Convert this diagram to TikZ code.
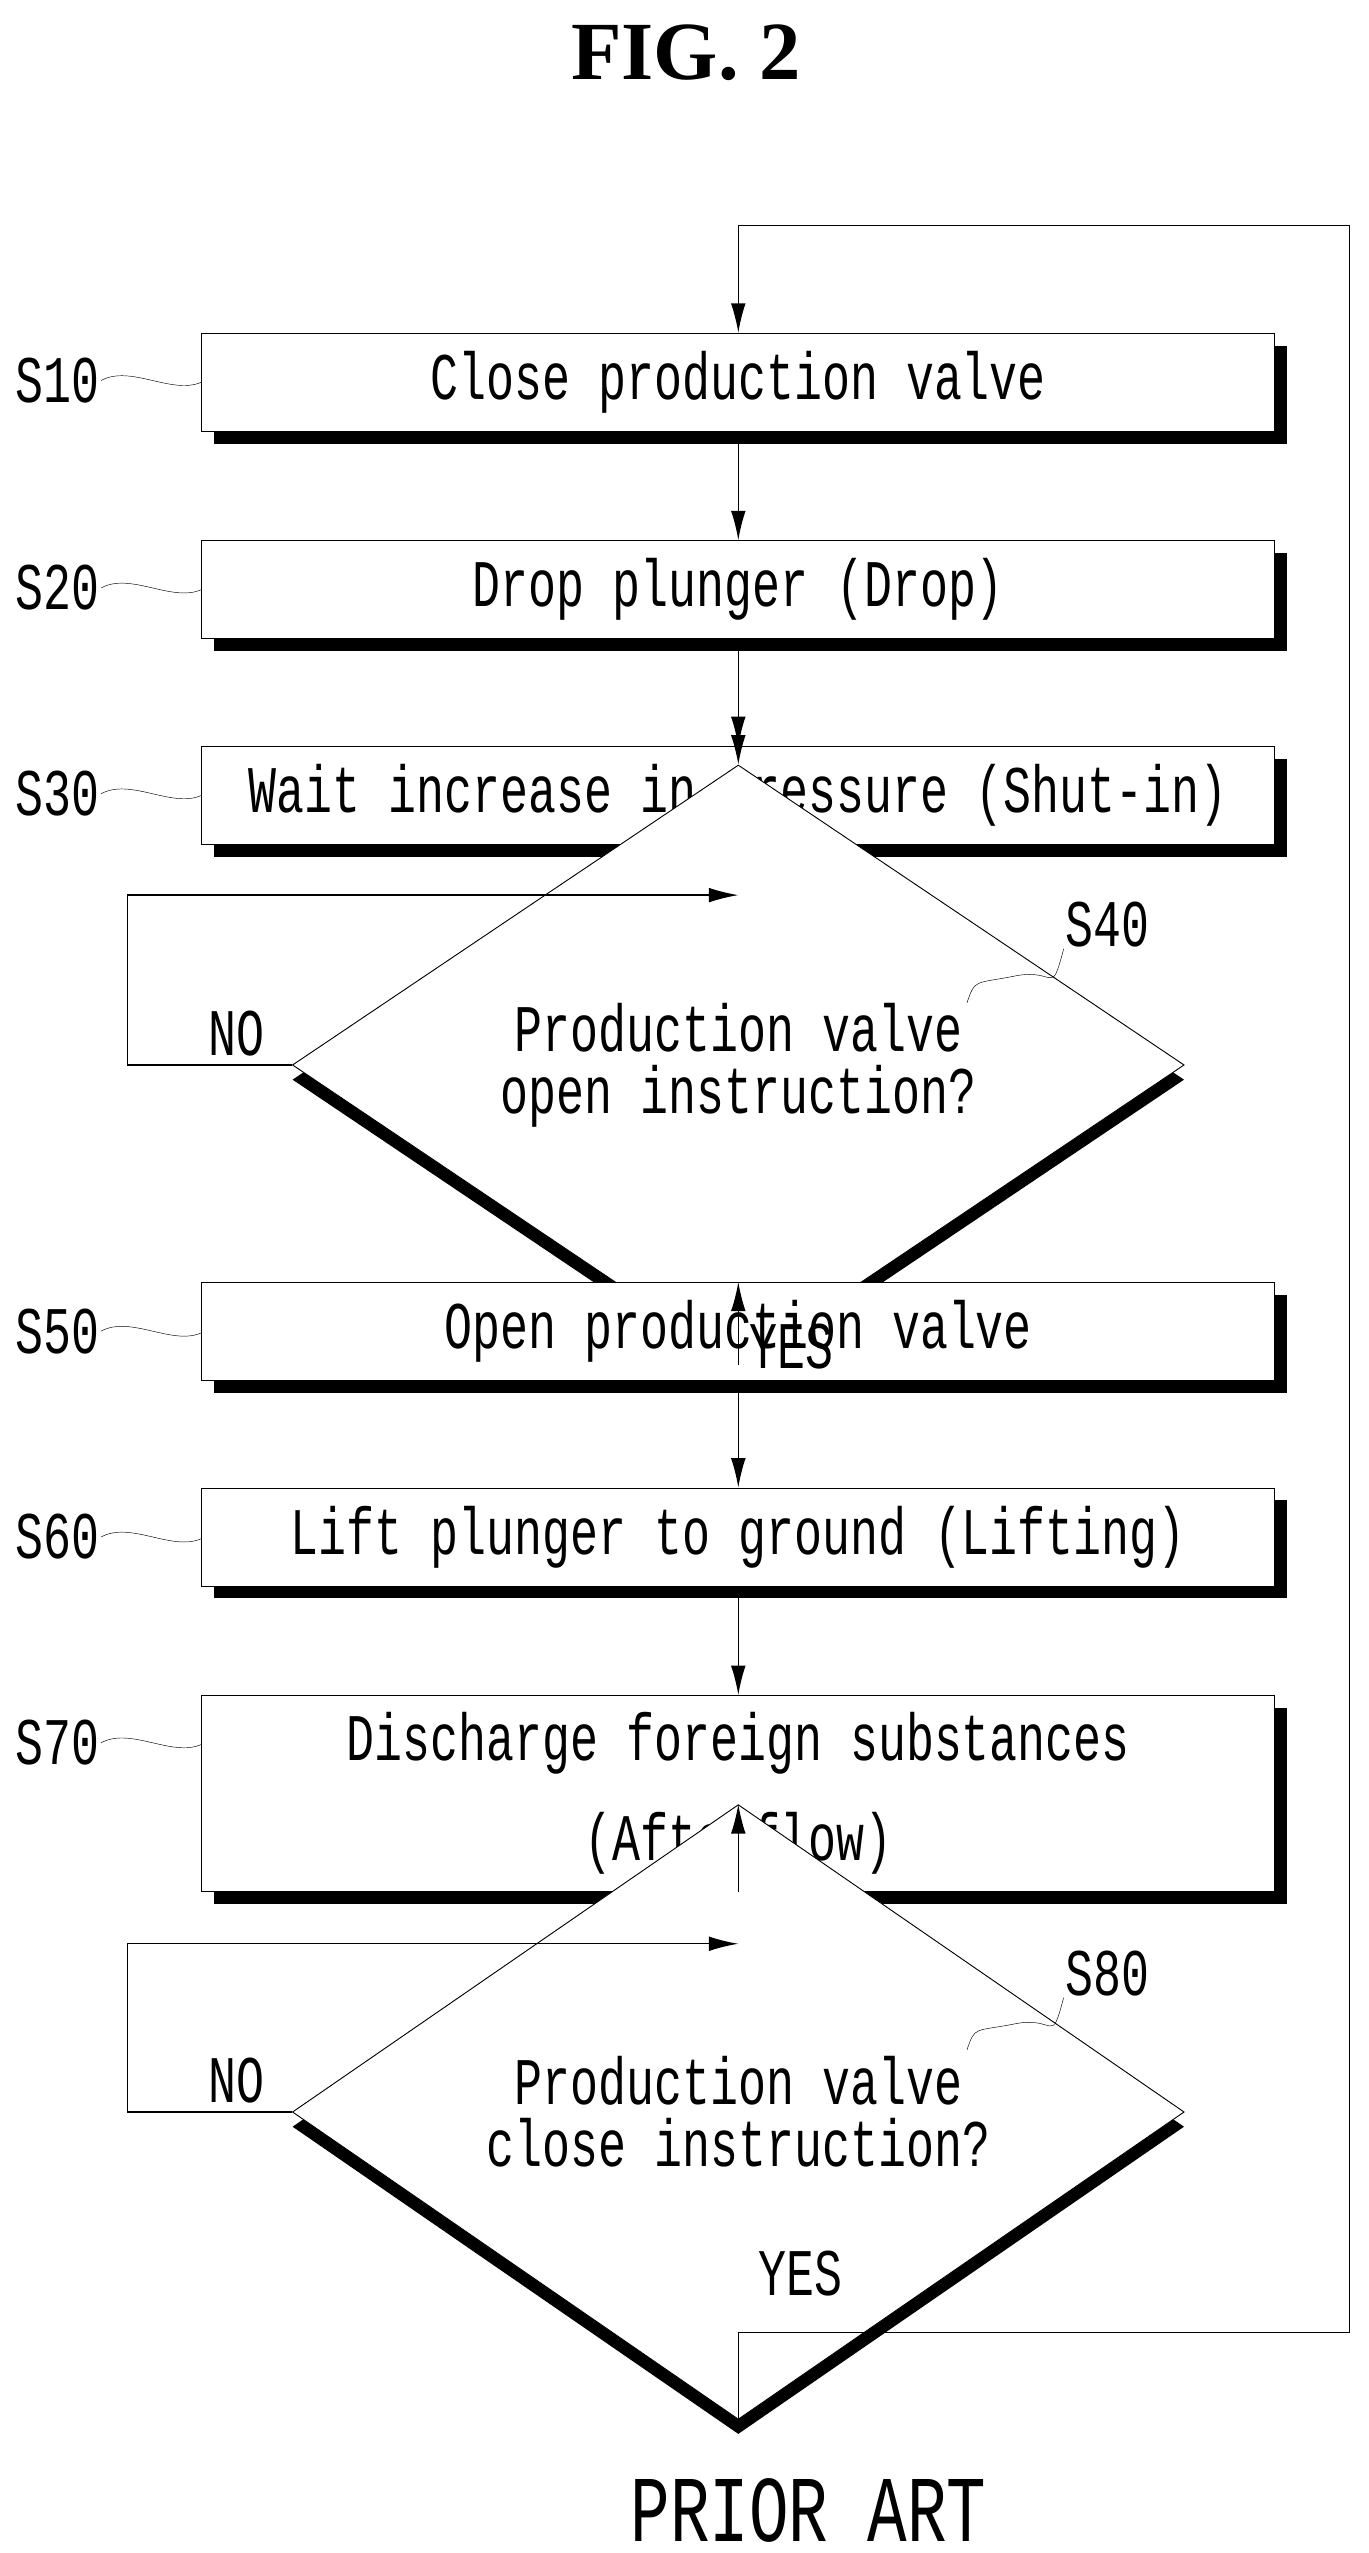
\documentclass[tikz,border=0pt]{standalone}
\usepackage{fontspec}
\setmainfont{Liberation Serif}
\newfontfamily\figfont[FakeStretch=0.7]{Liberation Mono}
\usetikzlibrary{arrows.meta,shapes.geometric,shadows,calc}

\tikzset{
  box/.style={draw,thick,fill=white,minimum width=32.85cm,minimum height=3cm,inner sep=0pt,
    drop shadow={shadow xshift=0.38cm,shadow yshift=-0.38cm,fill=black,opacity=1}},
  dec/.style={diamond,draw,thick,fill=white,minimum width=27.3cm,minimum height=6.95cm,inner sep=0pt,
    align=center,drop shadow={shadow xshift=0cm,shadow yshift=-0.45cm,fill=black,opacity=1}},
  lbl/.style={inner sep=1pt},
  >={Latex[length=0.9cm,width=0.45cm]}
}

\begin{document}
\begin{tikzpicture}[x=0.05cm,y=-0.05cm,font=\figfont\fontsize{58}{60}\selectfont,line width=1.2pt]
    \useasboundingbox (0,0) rectangle (838,1563);
    \node[font=\rmfamily\bfseries\fontsize{72}{72}\selectfont] (title) at (420,32) {FIG. 2};

    % process steps
    \node[box] (s10) at (452,234) {Close production valve};
    \node[box] (s20) at (452,361) {Drop plunger (Drop)};
    \node[box] (s30) at (452,487) {Wait increase in pressure (Shut-in)};
    \node[dec] (s40) at (452,652) {Production valve\\[-0.2cm]open instruction?};
    \node[box] (s50) at (452,815) {Open production valve};
    \node[box] (s60) at (452,941) {Lift plunger to ground (Lifting)};
    \node[box,minimum height=6cm,align=center] (s70) at (452,1098) {Discharge foreign substances\\[0.95cm](Afterflow)};
    \node[dec] (s80) at (452,1293) {Production valve\\[-0.2cm]close instruction?};

    % step labels
    \node[lbl] (l10) at (35,233) {S10};
    \node[lbl] (l20) at (35,360) {S20};
    \node[lbl] (l30) at (35,486) {S30};
    \node[lbl] (l50) at (35,815) {S50};
    \node[lbl] (l60) at (35,941) {S60};
    \node[lbl] (l70) at (35,1067) {S70};
    \node[lbl] (l40) at (678,566) {S40};
    \node[lbl] (l80) at (678,1208) {S80};
    \foreach \l/\s in {l10/s10,l20/s20,l30/s30,l50/s50,l60/s60,l70/s70}
      \draw[thin] (\l.east) .. controls +(18,-10) and +(-18,8) .. ([yshift=-0.05cm]\s.west |- \l.east);
    \coordinate (c40) at (592,614);
    \coordinate (c80) at (592,1255);
    \draw[thin] (l40.south west) .. controls +(-8,30) and +(25,-5) .. ($(l40.south west)!.5!(c40)$) .. controls +(-25,5) and +(5,-15) .. (c40);
    \draw[thin] (l80.south west) .. controls +(-8,30) and +(25,-5) .. ($(l80.south west)!.5!(c80)$) .. controls +(-25,5) and +(5,-15) .. (c80);

    % connectors
    \draw[->] (s10) -- (s20);
    \draw[->] (s20) -- (s30);
    \draw[->] (s30) -- (s40);
    \draw[->] (s40) -- (s50) node[pos=0.22,right=0.3cm,lbl] {YES};
    \draw[->] (s50) -- (s60);
    \draw[->] (s60) -- (s70);
    \draw[->] (s70) -- (s80);

    \coordinate (n40) at (452,548);
    \coordinate (n80) at (452,1190);
    \draw[->] (s40.west) -- (78,652) -- (78,548) -- (n40);
    \draw[->] (s80.west) -- (78,1293) -- (78,1190) -- (n80);
    \node[lbl] at (145,633) {NO};
    \node[lbl] at (145,1274) {NO};

    \coordinate (top) at (452,138);
    \draw (s80.south) -- (452,1428) -- (826,1428) -- (826,138) -- (top);
    \draw[->] (top) -- (s10.north);
    \node[lbl] at (490,1392) {YES};

    \node[font=\figfont\fontsize{82}{82}\selectfont] (prior) at (495,1537) {PRIOR ART};
\end{tikzpicture}
\end{document}
